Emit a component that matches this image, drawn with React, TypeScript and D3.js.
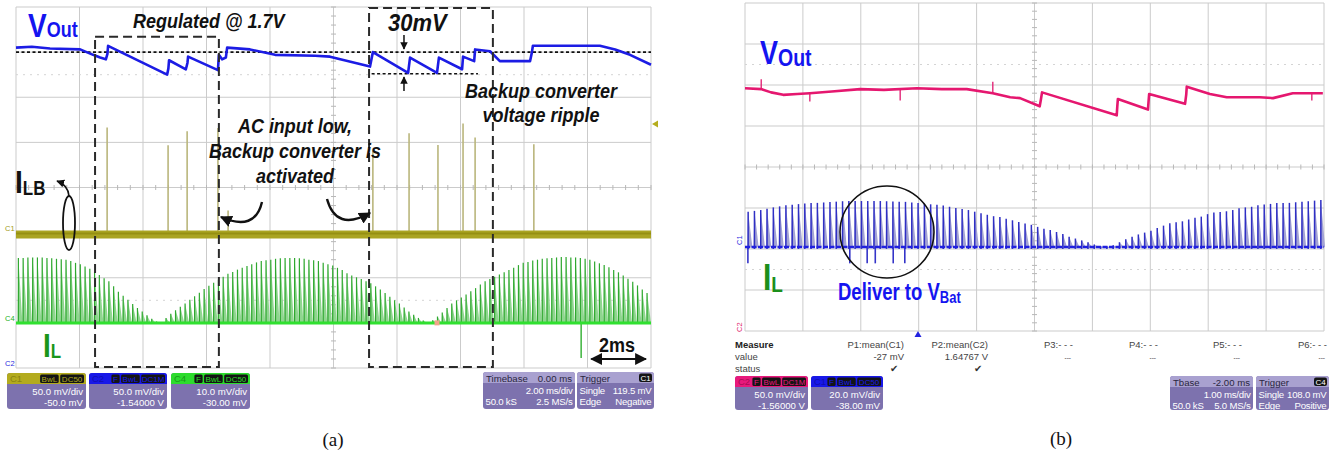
import React from "react";
import * as d3 from "d3";

const SANS = "'Liberation Sans', Arial, Helvetica, sans-serif";
const SERIF = "'Liberation Serif', 'Times New Roman', serif";

// ================= Panel (a) data =================
// time in ms (2 ms/div, 10 div), Vout in V (C2: 50 mV/div, offset -1.54 V)
const A_VOUT: [number, number][] = [
  [0, 1.695], [0.5, 1.696], [1.07, 1.694], [2.02, 1.693], [2.43, 1.687], [2.65, 1.684], [2.83, 1.682],
  [2.88, 1.688], [2.9, 1.697], [4.76, 1.665], [4.8, 1.672], [4.82, 1.681], [5.35, 1.671], [5.4, 1.678],
  [5.42, 1.685], [6.36, 1.67], [6.39, 1.687], [6.49, 1.682], [6.61, 1.684], [6.65, 1.695], [7.37, 1.693],
  [8.16, 1.687], [9.42, 1.686], [9.89, 1.685], [11.15, 1.674], [11.24, 1.69], [12.35, 1.667], [12.41, 1.684],
  [13.26, 1.667], [13.32, 1.684], [14.05, 1.671], [14.08, 1.685], [14.43, 1.68], [14.46, 1.693], [14.93, 1.691],
  [15.24, 1.68], [16.19, 1.68], [16.25, 1.69], [16.28, 1.697], [18.39, 1.697], [18.87, 1.693], [19.34, 1.687],
  [20, 1.676],
];
const A_VREF = 1.69; // "Regulated @ 1.7V" dotted line
const A_VRIPPLE_MIN = 1.666; // lower dotted line of 30mV ripple
// I_LB (C1: 50 mV/div, offset -50 mV)
const A_ILB_BASE = -2;
const A_ILB_SPIKES: [number, number][] = [
  [2.87, 116.6], [4.79, 96.7], [5.39, 112.2], [6.36, 116], [6.68, 24.6], [11.24, 91],
  [12.38, 110], [13.29, 97], [14.08, 121], [14.46, 105.5], [16.31, 98],
];
// I_L (C4: 10 mV/div, offset -30 mV) switching pulse peaks, one per pulse
const A_IL_STEP = 0.15;
const A_IL_PEAKS = [
  14.4, 14.4, 14.5, 14.5, 14.5, 14.5, 14.4, 14.3, 14.2, 14.1,
  14.0, 13.7, 13.3, 13.0, 12.5, 12.0, 11.3, 10.6, 9.9, 9.2,
  8.1, 6.9, 6.0, 5.1, 4.2, 3.3, 2.5, 1.7, 0.9, 0.3,
  0.2, 1.1, 2.0, 2.8, 3.6, 4.3, 5.1, 5.9, 6.7, 7.5,
  8.2, 8.9, 9.6, 10.2, 10.9, 11.3, 11.8, 12.2, 12.6, 13.0,
  13.4, 13.7, 13.9, 14.0, 14.2, 14.3, 14.4, 14.4, 14.4, 14.3,
  14.2, 14.0, 13.9, 13.7, 13.3, 13.0, 12.7, 12.2, 11.7, 11.0,
  10.5, 10.1, 9.7, 9.2, 8.8, 8.1, 7.4, 6.6, 5.8, 5.0,
  4.3, 3.4, 2.5, 1.8, 1.1, 0.5, 0.1, 0.6, 1.4, 2.3,
  3.3, 4.3, 5.0, 5.6, 6.3, 7.0, 7.7, 8.5, 9.2, 9.7,
  10.2, 10.7, 11.2, 11.7, 12.2, 12.8, 13.3, 13.5, 13.8, 14.0,
  14.2, 14.3, 14.4, 14.5, 14.6, 14.6, 14.5, 14.5, 14.4, 14.2,
  14.0, 13.6, 13.2, 12.8, 12.3, 11.7, 11.2, 10.5, 9.8, 9.1,
  8.3, 7.4, 6.6,
];
const A_IL_NEG: [number, number][] = [[17.8, -7.8]];

const A_CHANNELS = [
  { name: "C1", color: "#b3ab1e", text: "#8a8412", badges: ["BwL", "DC50"], lines: ["50.0 mV/div", "-50.0 mV"] },
  { name: "C2", color: "#1818e8", text: "#1010b0", badges: ["F", "BwL", "DC1M"], lines: ["50.0 mV/div", "-1.54000 V"] },
  { name: "C4", color: "#2ddc2d", text: "#1a9a1a", badges: ["F", "BwL", "DC50"], lines: ["10.0 mV/div", "-30.00 mV"] },
];
const A_TIMEBASE = { head: ["Timebase", "0.00 ms"], lines: [["", "2.00 ms/div"], ["50.0 kS", "2.5 MS/s"]] };
const A_TRIGGER = { head: ["Trigger", "C1"], lines: [["Single", "119.5 mV"], ["Edge", "Negative"]] };

// ================= Panel (b) data =================
// time in ms (1 ms/div), Vout in V (C2: 50 mV/div, offset -1.56 V)
const B_VOUT: [number, number][] = [
  [0, 1.656], [0.28, 1.655], [0.45, 1.651], [0.66, 1.648], [0.9, 1.649], [1.12, 1.65], [1.5, 1.652],
  [1.99, 1.655], [2.4, 1.654], [2.97, 1.656], [3.4, 1.655], [3.83, 1.655],
  [4.28, 1.65], [4.58, 1.645], [4.75, 1.644], [5.09, 1.634], [5.11, 1.642], [5.13, 1.651], [6.42, 1.623],
  [6.43, 1.634], [6.44, 1.643], [6.96, 1.63], [6.97, 1.64], [6.98, 1.649], [7.6, 1.637], [7.62, 1.648],
  [7.63, 1.658], [8.03, 1.649], [8.32, 1.645], [8.89, 1.645], [9.12, 1.644], [9.46, 1.65], [9.98, 1.65],
];
const B_VOUT_SPIKES: [number, number, number][] = [
  [0.28, 1.655, 1.667], [1.12, 1.65, 1.64], [2.68, 1.655, 1.641], [4.28, 1.65, 1.664], [9.79, 1.65, 1.641],
];
// I_L (C1: 20 mV/div, offset -38 mV)
const B_IL_BASE = -1;
const B_IL_STEP = 10 / 92;
const B_IL_PEAKS = [
  17.2, 17.6, 18.0, 18.6, 19.3, 19.8, 20.3, 20.6, 20.9, 21.2,
  21.4, 21.5, 21.7, 21.9, 22.1, 22.3, 22.4, 22.4, 22.4, 22.4,
  22.4, 22.4, 22.3, 22.2, 22.1, 22.0, 21.7, 21.4, 21.1, 20.8,
  20.6, 20.2, 19.6, 19.0, 18.5, 18.0, 17.2, 16.4, 15.7, 15.0,
  14.6, 13.8, 13.0, 12.2, 11.4, 10.8, 9.8, 8.9, 8.3, 7.3,
  6.3, 5.0, 4.1, 3.2, 2.3, 1.2, 0.3, 0.2, 0.8, 2.3,
  3.8, 5.0, 6.1, 7.0, 7.9, 9.2, 10.4, 11.6, 12.0, 12.5,
  13.4, 14.2, 14.8, 16.0, 16.8, 17.1, 17.4, 18.0, 18.9, 19.3,
  19.6, 20.3, 20.7, 21.0, 21.4, 21.5, 21.5, 21.8, 22.1, 22.3,
  22.6, 22.9,
];
const B_IL_NEG: [number, number][] = [[0.05, -9], [1.81, -9], [2.11, -9], [2.25, -9], [2.56, -9], [2.76, -9]];

const B_CHANNELS = [
  { name: "C2", color: "#e8197c", text: "#a80c55", badges: ["F", "BwL", "DC1M"], lines: ["50.0 mV/div", "-1.56000 V"] },
  { name: "C1", color: "#1818e8", text: "#1010b0", badges: ["F", "BwL", "DC50"], lines: ["20.0 mV/div", "-38.00 mV"] },
];
const B_TIMEBASE = { head: ["Tbase", "-2.00 ms"], lines: [["", "1.00 ms/div"], ["50.0 kS", "5.0 MS/s"]] };
const B_TRIGGER = { head: ["Trigger", "C4"], lines: [["Single", "108.0 mV"], ["Edge", "Positive"]] };
const B_MEASURE_HEAD = ["P1:mean(C1)", "P2:mean(C2)", "P3:- - -", "P4:- - -", "P5:- - -", "P6:- - -"];
const B_MEASURE_VAL = ["-27 mV", "1.64767 V", "---", "---", "---", "---"];
const B_MEASURE_OK = [true, true, false, false, false, false];

// ================= helpers =================
const BOX_FILL = "#7d72ae";
const BOX_FS = 9.6;

function T(p: any) {
  const { x, y, size, sy = 1, anchor = "start", weight = "normal", fstyle = "normal", fill = "#000", family = SANS, children } = p;
  return (
    <text transform={`translate(${x},${y}) scale(1,${sy})`} fontSize={size} textAnchor={anchor}
      fontWeight={weight} fontStyle={fstyle} fill={fill} fontFamily={family}>
      {children}
    </text>
  );
}

function Grid({ x, y }: { x: d3.ScaleLinear<number, number>; y: d3.ScaleLinear<number, number> }) {
  const [x0, x1] = x.range();
  const [y1, y0] = y.range();
  const xd = x.domain();
  const yd = y.domain();
  const xs = d3.range(11).map((i) => xd[0] + ((xd[1] - xd[0]) * i) / 10);
  const ys = d3.range(9).map((i) => yd[0] + ((yd[1] - yd[0]) * i) / 8);
  const xm = (xd[0] + xd[1]) / 2;
  const ym = (yd[0] + yd[1]) / 2;
  const xt = d3.range(51).map((i) => xd[0] + ((xd[1] - xd[0]) * i) / 50);
  const yt = d3.range(41).map((i) => yd[0] + ((yd[1] - yd[0]) * i) / 40);
  const q1 = yd[0] + (yd[1] - yd[0]) * (6.5 / 8);
  const q2 = yd[0] + (yd[1] - yd[0]) * (1.5 / 8);
  return (
    <g>
      <rect x={x0} y={y0} width={x1 - x0} height={y1 - y0} fill="#fff" />
      {xs.map((v, i) => (
        <line key={"gx" + i} x1={x(v)} x2={x(v)} y1={y0} y2={y1} stroke="#cbcbcb" strokeWidth={1} />
      ))}
      {ys.map((v, i) => (
        <line key={"gy" + i} x1={x0} x2={x1} y1={y(v)} y2={y(v)} stroke="#cbcbcb" strokeWidth={1} />
      ))}
      {[q1, q2].map((v, i) => (
        <line key={"q" + i} x1={x0} x2={x1} y1={y(v)} y2={y(v)} stroke="#d4d4d4" strokeWidth={1} strokeDasharray="2 5" />
      ))}
      {xt.map((v, i) => (
        <line key={"tx" + i} x1={x(v)} x2={x(v)} y1={y(ym) - 2.5} y2={y(ym) + 2.5} stroke="#b8b8b8" />
      ))}
      {yt.map((v, i) => (
        <line key={"ty" + i} x1={x(xm) - 2.5} x2={x(xm) + 2.5} y1={y(v)} y2={y(v)} stroke="#b8b8b8" />
      ))}
    </g>
  );
}

function badgeW(s: string) {
  return s.length * 5.2 + 3;
}

function headPath(x: number, y: number, w: number) {
  return `M${x},${y + 11} V${y + 3} Q${x},${y} ${x + 3},${y} H${x + w - 3} Q${x + w},${y} ${x + w},${y + 3} V${y + 11} Z`;
}

function ChannelBox({ x, y, w, h, ch }: any) {
  let bx = x + w - 2;
  const badges = [...ch.badges].reverse().map((b: string) => {
    const bw = badgeW(b);
    bx -= bw;
    const r = { b, x: bx, w: bw };
    bx -= 1.5;
    return r;
  });
  return (
    <g fontFamily={SANS}>
      <rect x={x} y={y} width={w} height={h} rx={3} fill={BOX_FILL} />
      <path d={headPath(x, y, w)} fill={ch.color} />
      <text x={x + 3} y={y + 9} fontSize={9.5} fill={ch.text}>{ch.name}</text>
      {badges.map((b: any) => (
        <g key={b.b}>
          <rect x={b.x} y={y + 1.5} width={b.w} height={8.5} rx={1.5} fill="#141414" />
          <text x={b.x + b.w / 2} y={y + 8.8} fontSize={8} textAnchor="middle" fill={ch.color}>{b.b}</text>
        </g>
      ))}
      {ch.lines.map((l: string, i: number) => (
        <text key={i} x={x + w - 3} y={y + 22 + i * 10.5} fontSize={BOX_FS} textAnchor="end" fill="#fff">{l}</text>
      ))}
    </g>
  );
}

function InfoBox({ x, y, w, h, info, badge }: any) {
  const bw = badge ? 13 : 0;
  return (
    <g fontFamily={SANS}>
      <rect x={x} y={y} width={w} height={h} rx={3} fill={BOX_FILL} />
      <path d={headPath(x, y, w)} fill="#a9a1d0" />
      <text x={x + 3} y={y + 9.5} fontSize={BOX_FS} fill="#2a2640">{info.head[0]}</text>
      {badge ? (
        <g>
          <rect x={x + w - bw - 2} y={y + 1.5} width={bw} height={8.5} rx={2} fill="#141414" />
          <text x={x + w - bw / 2 - 2} y={y + 8.8} fontSize={8} textAnchor="middle" fill="#fff">{info.head[1]}</text>
        </g>
      ) : (
        <text x={x + w - 3} y={y + 9.5} fontSize={BOX_FS} textAnchor="end" fill="#2a2640">{info.head[1]}</text>
      )}
      {info.lines.map((l: string[], i: number) => (
        <g key={i}>
          <text x={x + 2.5} y={y + 22 + i * 10.5} fontSize={BOX_FS} fill="#fff" letterSpacing={-0.2}>{l[0]}</text>
          <text x={x + w - 2.5} y={y + 22 + i * 10.5} fontSize={BOX_FS} textAnchor="end" fill="#fff" letterSpacing={-0.2}>{l[1]}</text>
        </g>
      ))}
    </g>
  );
}

export default function App() {
  // ---------- scales, panel (a) ----------
  const xA = d3.scaleLinear().domain([0, 20]).range([16, 651]);
  const divA = d3.scaleLinear().domain([-4, 4]).range([368, 7]);
  const yVA = d3.scaleLinear().domain([1.54 - 0.2, 1.54 + 0.2]).range([368, 7]);
  const yIlbA = d3.scaleLinear().domain([50 - 200, 50 + 200]).range([368, 7]);
  const yIlA = d3.scaleLinear().domain([30 - 40, 30 + 40]).range([368, 7]);

  // ---------- scales, panel (b) ----------
  const xB = d3.scaleLinear().domain([0, 10]).range([745, 1324]);
  const divB = d3.scaleLinear().domain([-4, 4]).range([331, 3]);
  const yVB = d3.scaleLinear().domain([1.56 - 0.2, 1.56 + 0.2]).range([331, 3]);
  const yIlB = d3.scaleLinear().domain([38 - 80, 38 + 80]).range([331, 3]);

  const lineA = d3.line<[number, number]>().x((d) => xA(d[0])).y((d) => yVA(d[1]));
  const lineB = d3.line<[number, number]>().x((d) => xB(d[0])).y((d) => yVB(d[1]));

  const ilBaseA = yIlA(0);
  const ilbBaseA = yIlbA(A_ILB_BASE);
  const ilBaseB = yIlB(B_IL_BASE);

  const dash = { stroke: "#2a2a2a", strokeWidth: 2, strokeDasharray: "9 5", fill: "none" };

  return (
    <svg width={1330} height={454} style={{ position: "absolute", left: 0, top: 0, background: "#fff" }} fontFamily={SANS}>
      <defs>
        <marker id="ah" viewBox="0 0 10 10" refX="9" refY="5" markerWidth="6" markerHeight="6" orient="auto-start-reverse">
          <path d="M0,0 L10,5 L0,10 z" fill="#111" />
        </marker>
        <marker id="ah2" viewBox="0 0 10 10" refX="9" refY="5" markerWidth="5" markerHeight="5" orient="auto-start-reverse">
          <path d="M0,0 L10,5 L0,10 z" fill="#111" />
        </marker>
      </defs>

      {/* ================= PANEL (a) ================= */}
      <Grid x={xA} y={divA} />

      {/* I_LB spikes */}
      {A_ILB_SPIKES.map((d, i) => (
        <line key={"ilb" + i} x1={xA(d[0])} x2={xA(d[0])} y1={ilbBaseA} y2={yIlbA(d[1])} stroke="#bab67c" strokeWidth={1.6} />
      ))}
      {/* I_LB baseline band */}
      <line x1={xA(0)} x2={xA(20)} y1={ilbBaseA} y2={ilbBaseA} stroke="#aaa421" strokeWidth={8} />
      <line x1={xA(0)} x2={xA(20)} y1={ilbBaseA - 1} y2={ilbBaseA - 1} stroke="#958f12" strokeWidth={2} />

      {/* I_L pulses */}
      {A_IL_PEAKS.map((v, i) => {
        const t = (i + 0.5) * A_IL_STEP;
        const px = xA(t);
        const py = yIlA(v);
        return (
          <g key={"ila" + i}>
            <path d={`M${px - 0.8},${ilBaseA} L${px},${py} L${px + 4},${ilBaseA} Z`} fill="#8fd68f" />
            <line x1={px} x2={px} y1={ilBaseA} y2={py} stroke="#2fa82f" strokeWidth={1.2} />
          </g>
        );
      })}
      {A_IL_NEG.map((d, i) => (
        <line key={"iln" + i} x1={xA(d[0])} x2={xA(d[0])} y1={ilBaseA} y2={yIlA(d[1])} stroke="#3db43d" strokeWidth={1.5} />
      ))}
      <line x1={xA(0)} x2={xA(20)} y1={ilBaseA} y2={ilBaseA} stroke="#30e030" strokeWidth={3} />
      <rect x={xA(13.26) - 2.5} y={ilBaseA - 2.5} width={5} height={5} fill="#f2a58a" />

      {/* reference dotted lines */}
      <line x1={xA(0)} x2={xA(20)} y1={yVA(A_VREF)} y2={yVA(A_VREF)} stroke="#111" strokeWidth={1.6} strokeDasharray="3 2.5" />
      <line x1={xA(11.2)} x2={xA(14.55)} y1={yVA(A_VRIPPLE_MIN)} y2={yVA(A_VRIPPLE_MIN)} stroke="#111" strokeWidth={1.6} strokeDasharray="3 2.5" />

      {/* Vout */}
      <path d={lineA(A_VOUT) || ""} fill="none" stroke="#1c1ce4" strokeWidth={2.6} strokeLinejoin="round" />

      {/* dashed boxes */}
      <rect x={xA(2.49)} y={divA(3.34)} width={xA(6.39) - xA(2.49)} height={divA(-3.98) - divA(3.34)} {...dash} />
      <rect x={xA(11.12)} y={divA(3.98)} width={xA(15.02) - xA(11.12)} height={divA(-3.98) - divA(3.98)} {...dash} />

      {/* 30mV arrows */}
      <line x1={xA(12.22)} x2={xA(12.22)} y1={35} y2={49} stroke="#111" strokeWidth={1.5} markerEnd="url(#ah2)" />
      <line x1={xA(12.22)} x2={xA(12.22)} y1={91} y2={77} stroke="#111" strokeWidth={1.5} markerEnd="url(#ah2)" />

      {/* curved arrows */}
      <path d="M 69 196 Q 68 185 57 181" fill="none" stroke="#111" strokeWidth={1.6} markerEnd="url(#ah2)" />
      <ellipse cx={69} cy={223} rx={6} ry={27} fill="none" stroke="#111" strokeWidth={1.8} />
      <path d="M 262 202 Q 255 232 221 217" fill="none" stroke="#111" strokeWidth={2.4} markerEnd="url(#ah2)" />
      <path d="M 327 199 Q 336 232 370 213" fill="none" stroke="#111" strokeWidth={2.4} markerEnd="url(#ah2)" />

      {/* 2ms arrow */}
      <line x1={xA(18.12)} x2={xA(19.84)} y1={359} y2={359} stroke="#111" strokeWidth={2} markerStart="url(#ah)" markerEnd="url(#ah)" />

      {/* trigger marker */}
      <polygon points="652,124 658,120.5 658,127.5" fill="#b5ad1e" />

      {/* channel labels on left edge */}
      <text x={5} y={231} fontSize={7.5} fill="#a09a18">C1</text>
      <text x={5} y={321} fontSize={7.5} fill="#22b022">C4</text>
      <text x={5} y={366} fontSize={7.5} fill="#2a2ae0">C2</text>

      {/* texts (a) */}
      <T x={28} y={37} size={28} sy={1.18} weight="bold" fill="#1414f0">
        V<tspan fontSize={18}>Out</tspan>
      </T>
      <T x={133} y={28} size={18} sy={1.15} weight="bold" fstyle="italic" fill="#111">Regulated @ 1.7V</T>
      <T x={388} y={31} size={22} sy={1.05} weight="bold" fstyle="italic" fill="#111">30mV</T>
      <T x={295} y={133} size={18} sy={1.15} weight="bold" fstyle="italic" fill="#111" anchor="middle">AC input low,</T>
      <T x={295} y={158} size={18} sy={1.15} weight="bold" fstyle="italic" fill="#111" anchor="middle">Backup converter is</T>
      <T x={295} y={183} size={18} sy={1.15} weight="bold" fstyle="italic" fill="#111" anchor="middle">activated</T>
      <T x={541} y={98} size={18} sy={1.15} weight="bold" fstyle="italic" fill="#111" anchor="middle">Backup converter</T>
      <T x={541} y={122} size={18} sy={1.15} weight="bold" fstyle="italic" fill="#111" anchor="middle">voltage ripple</T>
      <T x={15} y={193} size={28} sy={1.15} weight="bold" fill="#111">
        I<tspan fontSize={17} dy={2}>LB</tspan>
      </T>
      <T x={43} y={357} size={28} sy={1.18} weight="bold" fill="#1a961a">
        I<tspan fontSize={17} dy={1}>L</tspan>
      </T>
      <T x={617} y={352} size={18} sy={1.15} weight="bold" fill="#111" anchor="middle">2ms</T>

      {/* info boxes (a) */}
      <ChannelBox x={7} y={373} w={79} h={36} ch={A_CHANNELS[0]} />
      <ChannelBox x={89} y={373} w={78} h={36} ch={A_CHANNELS[1]} />
      <ChannelBox x={171} y={373} w={79} h={36} ch={A_CHANNELS[2]} />
      <InfoBox x={483} y={372} w={92} h={37} info={A_TIMEBASE} />
      <InfoBox x={577} y={372} w={77} h={37} info={A_TRIGGER} badge />

      <T x={333} y={446} size={19} family={SERIF} anchor="middle" fill="#111">(a)</T>

      {/* ================= PANEL (b) ================= */}
      <Grid x={xB} y={divB} />

      {/* I_L pulses (b) */}
      {B_IL_PEAKS.map((v, i) => {
        const t = (i + 0.5) * B_IL_STEP;
        const px = xB(t);
        const py = yIlB(B_IL_BASE + v);
        return (
          <g key={"ilb_" + i}>
            <path d={`M${px - 1},${ilBaseB + 2} L${px},${py} L${px + 4.2},${ilBaseB} Z`} fill="#a3a3d4" />
            <line x1={px} x2={px} y1={ilBaseB + 2} y2={py} stroke="#2f2fc4" strokeWidth={1.5} />
          </g>
        );
      })}
      {B_IL_NEG.map((d, i) => (
        <line key={"ilbn" + i} x1={xB(d[0])} x2={xB(d[0])} y1={ilBaseB} y2={yIlB(d[1])} stroke="#3434c8" strokeWidth={1.6} />
      ))}
      <line x1={xB(0)} x2={xB(10)} y1={ilBaseB} y2={ilBaseB} stroke="#2020e0" strokeWidth={2.4} strokeDasharray="5 1.5" />

      {/* Vout (b) */}
      {B_VOUT_SPIKES.map((d, i) => (
        <line key={"vs" + i} x1={xB(d[0])} x2={xB(d[0])} y1={yVB(d[1])} y2={yVB(d[2])} stroke="#e0186e" strokeWidth={1.3} />
      ))}
      <path d={lineB(B_VOUT) || ""} fill="none" stroke="#e5176f" strokeWidth={2.6} strokeLinejoin="round" />

      <ellipse cx={887} cy={232} rx={47} ry={46} fill="none" stroke="#111" strokeWidth={1.6} />

      {/* markers (b) */}
      <polygon points="918,331 914.5,337 921.5,337" fill="#2323e0" />
      <text transform="translate(742,245) rotate(-90)" fontSize={7.5} fill="#2a2ae0">C1</text>
      <text transform="translate(742,332) rotate(-90)" fontSize={7.5} fill="#e0186e">C2</text>

      {/* texts (b) */}
      <T x={760} y={64} size={27} sy={1.22} weight="bold" fill="#1414f0">
        V<tspan fontSize={19.5} dy={1.5}>Out</tspan>
      </T>
      <T x={763} y={290} size={30} sy={1.2} weight="bold" fill="#1c8f1c">
        I<tspan fontSize={19} dy={2}>L</tspan>
      </T>
      <T x={838} y={300} size={18.5} sy={1.25} weight="bold" fill="#1414f0">
        Deliver to V<tspan fontSize={13} dy={2.5}>Bat</tspan>
      </T>

      {/* measure table */}
      <g fontSize={9.5} fill="#444" fontFamily={SANS}>
        <text x={735} y={348} fontWeight="bold" fill="#222">Measure</text>
        <text x={735} y={360}>value</text>
        <text x={735} y={372}>status</text>
        {B_MEASURE_HEAD.map((h, i) => {
          const rx = [904, 988, 1073, 1158, 1242, 1327][i];
          return (
            <g key={h}>
              <text x={rx} y={348} textAnchor="end">{h}</text>
              <text x={B_MEASURE_OK[i] ? rx : rx - 2} y={360} textAnchor="end" fontSize={B_MEASURE_OK[i] ? 9.5 : 6.5}>{B_MEASURE_VAL[i]}</text>
              {B_MEASURE_OK[i] ? <text x={rx - 6} y={372} textAnchor="end" fontSize={10} fill="#333">✔</text> : null}
            </g>
          );
        })}
      </g>

      {/* info boxes (b) */}
      <ChannelBox x={735} y={376} w={73} h={34} ch={B_CHANNELS[0]} />
      <ChannelBox x={811} y={376} w={72} h={34} ch={B_CHANNELS[1]} />
      <InfoBox x={1170} y={376} w={83} h={34} info={B_TIMEBASE} />
      <InfoBox x={1256} y={376} w={73} h={34} info={B_TRIGGER} badge />

      <T x={1061} y={445} size={19} family={SERIF} anchor="middle" fill="#111">(b)</T>
    </svg>
  );
}
